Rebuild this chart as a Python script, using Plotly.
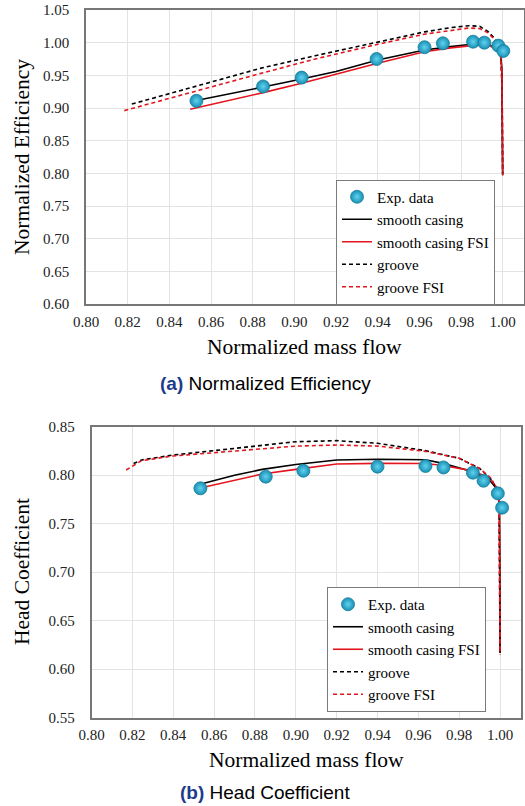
import plotly.graph_objects as go

# ---------------- data: (a) normalized efficiency ----------------
eff_exp_x = [0.853, 0.885, 0.9035, 0.9395, 0.9625, 0.9713, 0.9858, 0.9912, 0.9979, 1.0003]
eff_exp_y = [0.911, 0.933, 0.9465, 0.975, 0.993, 0.999, 1.0015, 1.000, 0.9955, 0.9873]

eff_smooth_x = [0.8535, 0.870, 0.885, 0.9035, 0.920, 0.940, 0.9625, 0.975, 0.985, 0.990, 0.994, 0.997, 0.999, 0.9996, 0.9998, 1.0000]
eff_smooth_y = [0.912, 0.922, 0.932, 0.9443, 0.956, 0.9735, 0.9888, 0.994, 0.9976, 0.998, 0.996, 0.991, 0.982, 0.960, 0.900, 0.797]

eff_smooth_fsi_x = [0.850, 0.870, 0.885, 0.9035, 0.920, 0.940, 0.9625, 0.975, 0.985, 0.990, 0.994, 0.997, 0.999, 0.9996, 0.9998, 1.0000]
eff_smooth_fsi_y = [0.898, 0.912, 0.9235, 0.938, 0.952, 0.9685, 0.986, 0.992, 0.9955, 0.9965, 0.995, 0.990, 0.981, 0.960, 0.900, 0.797]

eff_groove_x = [0.822, 0.850, 0.884, 0.910, 0.940, 0.9625, 0.975, 0.984, 0.989, 0.993, 0.996, 0.9989, 0.9995, 0.9998, 1.0]
eff_groove_y = [0.906, 0.931, 0.961, 0.980, 1.0015, 1.0165, 1.023, 1.026, 1.025, 1.017, 1.007, 0.984, 0.950, 0.900, 0.800]

eff_groove_fsi_x = [0.8184, 0.850, 0.884, 0.910, 0.940, 0.9625, 0.975, 0.984, 0.989, 0.993, 0.996, 0.9989, 0.9995, 0.9998, 1.0]
eff_groove_fsi_y = [0.896, 0.924, 0.953, 0.975, 0.9975, 1.013, 1.019, 1.0225, 1.0215, 1.015, 1.005, 0.983, 0.950, 0.900, 0.800]

# ---------------- data: (b) head coefficient ----------------
head_exp_x = [0.8533, 0.8853, 0.9037, 0.940, 0.9635, 0.9723, 0.9867, 0.9919, 0.9989, 1.0010]
head_exp_y = [0.7865, 0.7985, 0.8046, 0.8088, 0.8095, 0.808, 0.8026, 0.7943, 0.7813, 0.7665]

head_smooth_x = [0.855, 0.870, 0.8836, 0.900, 0.920, 0.940, 0.9635, 0.972, 0.9867, 0.9948, 0.9989, 0.9997, 0.9999, 1.0]
head_smooth_y = [0.7916, 0.800, 0.806, 0.811, 0.8157, 0.8164, 0.816, 0.8122, 0.8036, 0.795, 0.7847, 0.765, 0.700, 0.617]

head_smooth_fsi_x = [0.8505, 0.870, 0.8836, 0.900, 0.920, 0.940, 0.9635, 0.972, 0.9867, 0.9948, 0.9989, 0.9997, 0.9999, 1.0]
head_smooth_fsi_y = [0.7855, 0.795, 0.8012, 0.806, 0.8116, 0.8122, 0.812, 0.810, 0.8045, 0.797, 0.786, 0.765, 0.700, 0.617]

head_groove_x = [0.8206, 0.8245, 0.840, 0.884, 0.900, 0.920, 0.940, 0.9635, 0.980, 0.990, 0.996, 0.9995, 0.9998, 1.0]
head_groove_y = [0.812, 0.8157, 0.8208, 0.8304, 0.8345, 0.8356, 0.8329, 0.8253, 0.8174, 0.807, 0.795, 0.778, 0.700, 0.615]

head_groove_fsi_x = [0.817, 0.8245, 0.840, 0.884, 0.900, 0.920, 0.940, 0.9635, 0.980, 0.990, 0.996, 0.9995, 0.9998, 1.0]
head_groove_fsi_y = [0.8054, 0.815, 0.8198, 0.8277, 0.830, 0.8311, 0.830, 0.8246, 0.8174, 0.807, 0.796, 0.778, 0.700, 0.615]

names = ["Exp. data", "smooth casing", "smooth casing FSI", "groove", "groove FSI"]
x_ticks = [0.80, 0.82, 0.84, 0.86, 0.88, 0.90, 0.92, 0.94, 0.96, 0.98, 1.00]

SERIF = "Liberation Serif, Times New Roman, serif"
SANS = "Liberation Sans, Arial, sans-serif"

fig = go.Figure()

def add_set(exp_x, exp_y, sx, sy, sfx, sfy, gx, gy, gfx, gfy, xa, ya, leg):
    lw = 1.6
    fig.add_trace(go.Scatter(x=sx, y=sy, mode="lines", name=names[1],
                             line=dict(color="black", width=lw),
                             xaxis=xa, yaxis=ya, legend=leg, legendrank=2))
    fig.add_trace(go.Scatter(x=sfx, y=sfy, mode="lines", name=names[2],
                             line=dict(color="#e3161f", width=lw),
                             xaxis=xa, yaxis=ya, legend=leg, legendrank=3))
    fig.add_trace(go.Scatter(x=gx, y=gy, mode="lines", name=names[3],
                             line=dict(color="black", width=lw, dash="4px,3px"),
                             xaxis=xa, yaxis=ya, legend=leg, legendrank=4))
    fig.add_trace(go.Scatter(x=gfx, y=gfy, mode="lines", name=names[4],
                             line=dict(color="#e3161f", width=lw, dash="4px,3px"),
                             xaxis=xa, yaxis=ya, legend=leg, legendrank=5))
    fig.add_trace(go.Scatter(x=exp_x, y=exp_y, mode="markers", name=names[0],
                             marker=dict(size=13, color="#1890b4",
                                         gradient=dict(type="radial", color="#62d2ef"),
                                         line=dict(color="#157d9c", width=0.8)),
                             xaxis=xa, yaxis=ya, legend=leg, legendrank=1))

add_set(eff_exp_x, eff_exp_y, eff_smooth_x, eff_smooth_y, eff_smooth_fsi_x, eff_smooth_fsi_y,
        eff_groove_x, eff_groove_y, eff_groove_fsi_x, eff_groove_fsi_y, "x", "y", "legend")
add_set(head_exp_x, head_exp_y, head_smooth_x, head_smooth_y, head_smooth_fsi_x, head_smooth_fsi_y,
        head_groove_x, head_groove_y, head_groove_fsi_x, head_groove_fsi_y, "x2", "y2", "legend2")

W, H = 525, 806

def px_x(p):
    return p / W

def px_y(p):
    return 1 - p / H

axis_common = dict(showgrid=True, gridcolor="#e3e3e3", gridwidth=1,
                   showline=True, mirror=True, linecolor="#777777", linewidth=1.5,
                   zeroline=False, ticks="", automargin=False, ticklabeloverflow="allow",
                   tickfont=dict(family=SERIF, size=15, color="#222222"))
xax = dict(axis_common, ticklabelstandoff=3, range=[0.80, 1.01], tickvals=x_ticks, tickformat=".2f")
yax = dict(axis_common, ticklabelstandoff=12, dtick=0.05, tickformat=".2f")

legend_font = dict(family=SERIF, size=15, color="black")

fig.update_layout(
    width=W, height=H,
    margin=dict(l=0, r=0, t=0, b=0, pad=0, autoexpand=False),
    paper_bgcolor="white", plot_bgcolor="white",
    font=dict(family=SERIF, size=15, color="black"),
    xaxis=dict(xax, domain=[px_x(86), px_x(523.5)], anchor="y"),
    yaxis=dict(yax, domain=[px_y(304), px_y(10)], range=[0.60, 1.05], anchor="x"),
    xaxis2=dict(xax, domain=[px_x(91.5), px_x(520.5)], anchor="y2"),
    yaxis2=dict(yax, domain=[px_y(717.7), px_y(426.7)], range=[0.55, 0.85], anchor="x2"),
    legend=dict(x=px_x(336), y=px_y(179.5), xanchor="left", yanchor="top",
                bgcolor="white", bordercolor="#7a7a7a", borderwidth=1,
                font=legend_font, traceorder="normal", itemwidth=30),
    legend2=dict(x=px_x(327), y=px_y(587), xanchor="left", yanchor="top",
                 bgcolor="white", bordercolor="#7a7a7a", borderwidth=1,
                 font=legend_font, traceorder="normal", itemwidth=30),
    showlegend=True,
)

ann = []
TITLE = dict(family=SERIF, size=21.5, color="black")
C = dict(xref="paper", yref="paper", showarrow=False, xanchor="center", yanchor="middle")
ann.append(dict(C, text="Normalized mass flow", x=px_x((86 + 523.5) / 2), y=px_y(346.5), font=TITLE))
ann.append(dict(C, text="Normalized Efficiency", x=px_x(22), y=px_y(157), textangle=-90, font=TITLE))
ann.append(dict(C, text="Normalized mass flow", x=px_x((91.5 + 520.5) / 2), y=px_y(760), font=TITLE))
ann.append(dict(C, text="Head Coefficient", x=px_x(22), y=px_y(572), textangle=-90, font=TITLE))
CAP = dict(family=SANS, size=19, color="black")
ann.append(dict(C, text="<span style='color:#1d3b8c'><b>(a)</b></span> Normalized Efficiency",
                x=px_x(265), y=px_y(383), font=CAP))
ann.append(dict(C, text="<span style='color:#1d3b8c'><b>(b)</b></span> Head Coefficient",
                x=px_x(265), y=px_y(792.5), font=CAP))
fig.update_layout(annotations=ann)

fig.write_html("out.html",
               config={"displayModeBar": False},
               post_script="document.body.style.margin='0px';document.body.style.overflow='hidden';")
